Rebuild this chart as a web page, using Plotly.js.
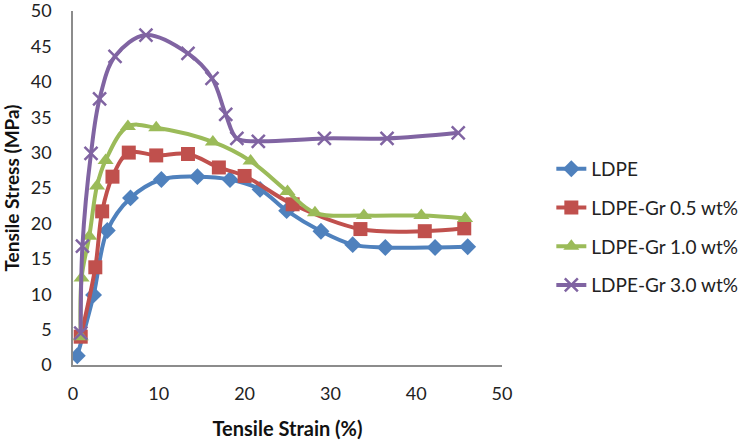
<!DOCTYPE html>
<html><head><meta charset="utf-8">
<script src="https://cdn.plot.ly/plotly-3.0.1.min.js"></script>
<style>html,body{margin:0;padding:0;background:#fff}#chart{width:754px;height:440px}</style>
</head><body><div id="chart"></div>
<script>
const seriesNames = ["LDPE", "LDPE-Gr 0.5 wt%", "LDPE-Gr 1.0 wt%", "LDPE-Gr 3.0 wt%"];

const ldpeX = [0.5, 2.4, 4.0, 6.7, 10.3, 14.5, 18.3, 21.8, 24.9, 28.9, 32.6, 36.4, 42.2, 46.0];
const ldpeY = [1.3, 9.9, 19.0, 23.6, 26.2, 26.6, 26.2, 24.8, 21.8, 18.9, 17.0, 16.6, 16.6, 16.7];

const gr05X = [0.9, 2.6, 3.4, 4.6, 6.5, 9.7, 13.4, 17.0, 20.0, 25.6, 33.5, 41.0, 45.6];
const gr05Y = [4.0, 13.8, 21.7, 26.6, 30.0, 29.6, 29.8, 27.9, 26.7, 22.7, 19.2, 18.9, 19.3];

const gr10X = [0.9, 1.0, 1.9, 2.8, 3.8, 6.4, 9.7, 16.3, 20.7, 25.0, 28.2, 33.9, 40.6, 45.7];
const gr10Y = [4.0, 12.3, 18.2, 25.3, 28.9, 33.7, 33.5, 31.5, 28.8, 24.5, 21.5, 21.1, 21.1, 20.7];

const gr30X = [0.9, 1.1, 2.1, 3.1, 4.9, 8.5, 13.4, 16.2, 17.8, 19.1, 21.6, 29.3, 36.6, 44.9];
const gr30Y = [4.5, 16.8, 29.9, 37.6, 43.6, 46.6, 44.0, 40.5, 35.4, 32.0, 31.6, 32.0, 32.0, 32.8];

const xTicks = [0, 10, 20, 30, 40, 50];
const yTicks = [0, 5, 10, 15, 20, 25, 30, 35, 40, 45, 50];

const colors = ["#4F81BD", "#C0504D", "#9BBB59", "#8064A2"];
const FONT = "Lato, 'Open Sans', sans-serif";

function tr(x, y, i, marker) {
  return {
    x: x, y: y, name: seriesNames[i], type: "scatter", mode: "lines+markers",
    legendgroup: "g" + i,
    line: {color: colors[i], width: 4, shape: "spline", smoothing: 1},
    marker: marker
  };
}

const data = [
  tr(ldpeX, ldpeY, 0, {symbol: "diamond", size: 13, color: colors[0]}),
  tr(gr05X, gr05Y, 1, {symbol: "square", size: 14, color: colors[1]}),
  tr(gr10X, gr10Y, 2, {symbol: "triangle-up", size: 14, color: colors[2]}),
  tr(gr30X, gr30Y, 3, {symbol: "x-thin", size: 13, color: colors[3], line: {color: colors[3], width: 2.5}})
];

const layout = {
  width: 754, height: 440,
  margin: {l: 73, r: 247, t: 11, b: 75},
  paper_bgcolor: "#fff", plot_bgcolor: "#fff",
  font: {family: FONT, size: 18, color: "#222"},
  showlegend: true,
  legend: {x: 1.115, y: 0.39, xanchor: "left", yanchor: "middle",
           font: {family: FONT, size: 19, color: "#222"}, tracegroupgap: 11,
           bgcolor: "rgba(0,0,0,0)"},
  xaxis: {
    range: [0, 50], tickvals: xTicks, ticktext: xTicks.map(String),
    showgrid: false, zeroline: false, showline: true, linecolor: "#8c8c8c", linewidth: 1.5,
    ticks: "", ticklen: 0, ticklabelstandoff: 12, ticklabeloverflow: "allow",
    tickfont: {family: FONT, size: 18, color: "#222"},
    title: {text: "<b>Tensile Strain (%)</b>", font: {family: FONT, size: 20, color: "#111"}, standoff: 21}
  },
  yaxis: {
    range: [0, 50], tickvals: yTicks, ticktext: yTicks.map(String),
    showgrid: false, zeroline: false, showline: true, linecolor: "#8c8c8c", linewidth: 1.5,
    ticks: "", ticklen: 0, ticklabelstandoff: 16, ticklabeloverflow: "allow",
    tickfont: {family: FONT, size: 18, color: "#222"},
    title: {text: "<b>Tensile Stress (MPa)</b>", font: {family: FONT, size: 19, color: "#111"}, standoff: 12}
  }
};

Plotly.newPlot("chart", data, layout, {displayModeBar: false, responsive: false});
</script>
</body></html>
